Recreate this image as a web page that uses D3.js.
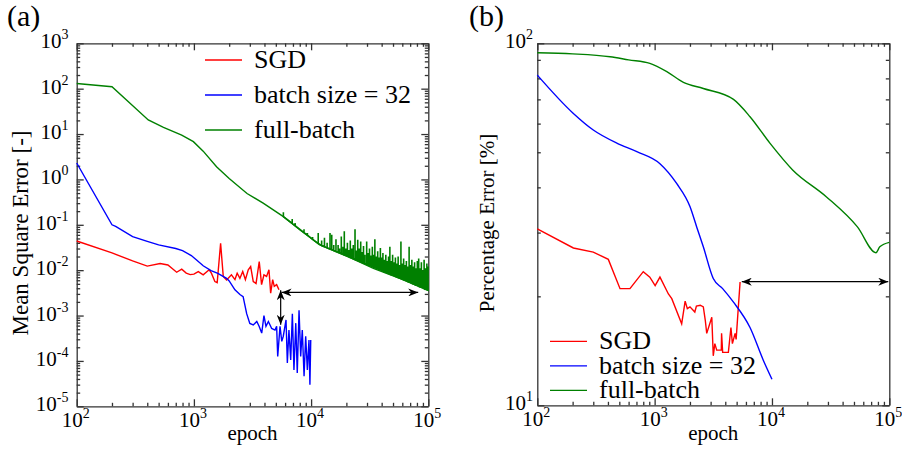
<!DOCTYPE html>
<html>
<head>
<meta charset="utf-8">
<script src="https://cdn.jsdelivr.net/npm/d3@7"></script>
<style>
body{margin:0;background:#fff}
svg{display:block}
text{font-family:"Liberation Serif","DejaVu Serif","Times New Roman",serif}
</style>
</head>
<body>
<script>
// ---- data ----
// (a) Mean Square Error [-]  vs epoch
const sgdMSE = [[100,0.044],[200,0.024],[300,0.016],[400,0.0123],[515,0.014],[600,0.013],[713,0.009],[787,0.0105],
  [860,0.0086],[930,0.008],[1000,0.0082],[1090,0.0093],[1200,0.0079],[1350,0.0102],[1410,0.0086],[1510,0.0056],
  [1580,0.0053],[1690,0.039],[1780,0.0073],[1900,0.0061],[2090,0.0079],[2240,0.0062],[2340,0.0086],[2470,0.0066],
  [2610,0.0093],[2750,0.0062],[2910,0.0102],[3050,0.012],[3210,0.0056],[3390,0.0051],[3610,0.0155],[3780,0.0048],
  [3960,0.0079],[4170,0.0073],[4370,0.0102],[4520,0.0031],[4700,0.0062],[4850,0.0044],[5080,0.0048],[5320,0.0037]]

const batchMSE = [[100,2.3],[200,0.1],[215,0.092],[300,0.055],[400,0.043],[500,0.036],[700,0.03],[800,0.027],
  [950,0.021],[1060,0.0165],[1200,0.0125],[1400,0.0098],[1600,0.0085],[1900,0.0066],[2000,0.0058],[2240,0.0037],
  [2470,0.0029],[2630,0.0026],[2820,0.0011],[3000,0.00067],[3210,0.00062],[3440,0.00074],[3600,0.00058],
  [3790,0.00041],[3960,0.001],[4120,0.00058],[4320,0.00074],[4610,0.00052],[4920,0.00048],[5080,0.00058],
  [5190,0.000126],[5430,0.00058],[5620,0.00027],[5790,0.00035],[6110,0.0008],[6270,0.00009],[6470,0.00048],
  [6700,0.000105],[6920,0.0011],[7140,0.000063],[7400,0.00068],[7620,0.000054],[7890,0.0013],[8150,0.000126],
  [8410,0.00048],[8710,0.000046],[8990,0.00035],[9290,0.000063],[9590,0.00029],[9770,0.00003],[9930,0.00029]]

const fullMSE = [[100,130],[200,110],[408,20.5],[550,14],[787,9.5],[990,6.8],[1200,4.2],[1560,1.9],[2000,1.05],
  [2840,0.49],[3900,0.3],[5800,0.151],[8000,0.078],[11900,0.036],[20000,0.0206],[34000,0.011],[60000,0.0063],[100000,0.0036]]

// full-batch noise spikes: [epoch, base, peak]
const fullSpikes = [[5800,0.151,0.19],[6900,0.107,0.135],[7300,0.096,0.11],[8700,0.067,0.08],[9300,0.059,0.066],
  [10300,0.048,0.054],[11500,0.0386,0.066],[12300,0.0348,0.045],[13000,0.0328,0.052],[13700,0.031,0.04],
  [14500,0.0292,0.066],[15000,0.0281,0.06],[15600,0.027,0.036],[16300,0.0257,0.048],[17000,0.0246,0.036],
  [17500,0.0239,0.03],[18100,0.023,0.055],[18700,0.0222,0.033],[19200,0.0215,0.072],[19800,0.0209,0.03],
  [20400,0.0202,0.04],[21000,0.0195,0.028],[21600,0.019,0.045],[22300,0.0183,0.03],[22900,0.0178,0.036],
  [23700,0.0171,0.08],[24300,0.0167,0.027],[25000,0.0162,0.047],[25700,0.0157,0.03],[26500,0.0152,0.043],
  [27200,0.0148,0.025],[28000,0.0143,0.034],[28800,0.0139,0.022],[29800,0.0134,0.043],[30600,0.013,0.024],
  [31500,0.0126,0.03],[32400,0.0123,0.021],[33300,0.0119,0.033],[34200,0.0116,0.022],[35000,0.0113,0.048],
  [36000,0.011,0.02],[37000,0.0106,0.026],[38000,0.0103,0.019],[39000,0.0101,0.031],[40000,0.0098,0.019],
  [41000,0.0095,0.024],[42200,0.0092,0.017],[43400,0.009,0.022],[44600,0.0087,0.016],[45800,0.0085,0.02],
  [47000,0.0082,0.033],[48300,0.008,0.016],[49600,0.0078,0.022],[51000,0.0076,0.015],[52400,0.0073,0.019],
  [53800,0.0071,0.014],[55300,0.0069,0.02],[56800,0.0067,0.013],[58400,0.0065,0.043],[60000,0.0063,0.014],
  [61600,0.0061,0.018],[63300,0.006,0.013],[65000,0.0058,0.016],[66800,0.0056,0.012],[68600,0.0055,0.033],
  [70500,0.0053,0.013],[72400,0.0051,0.017],[74400,0.005,0.012],[76400,0.0048,0.015],[78500,0.0047,0.011],
  [80600,0.0046,0.016],[82800,0.0044,0.018],[85000,0.0043,0.011],[87300,0.0042,0.015],[89700,0.0041,0.01],
  [92100,0.0039,0.017],[94600,0.0038,0.011],[97200,0.0037,0.014],[99500,0.0036,0.012]]

// (b) Percentage Error [%] vs epoch
const sgdPct = [[100,30.7],[203,27.2],[300,26.5],[403,25.3],[507,21],[616,21],[800,23.4],[910,22.6],[1010,21.4],
  [1110,22.6],[1310,20.3],[1400,19.7],[1700,16.8],[1820,19.4],[1900,18.5],[2000,18.7],[2200,18.1],[2270,18.8],
  [2450,18.9],[2600,18.7],[2700,17.2],[2780,15.8],[3070,17.5],[3160,13.7],[3260,14.8],[3380,14.2],[3700,14.2],
  [3720,15.8],[3800,14],[4250,14],[4470,16.4],[4600,14.8],[4850,15.8],[4950,15.2],[5170,18.7],[5350,21.9]]

const batchPct = [[100,81.7],[203,64],[300,57.6],[476,53],[705,50.2],[1110,46.5],[1540,41],[2000,35.4],[2290,31],
  [2600,27.4],[3160,22.4],[3800,21],[4680,19.3],[6500,16.4],[8450,13.3],[10000,11.8]]

const fullPct = [[100,94.2],[200,93.5],[417,91.8],[600,90],[910,88],[1270,83.5],[1760,78],[2600,75],[4700,70],
  [6500,62.7],[9600,53],[15000,44.7],[29000,37.7],[53500,31.1],[77000,26.4],[83000,27.4],[100000,28.2]]

// double arrows [x1, y1, x2, y2]
const arrowsA = [[5600,0.00323,82000,0.00323],[5500,0.0036,5500,0.00063]]
const arrowsB = [[5530,21.95,98000,21.95]]

const legendNames = ["SGD", "batch size = 32", "full-batch"]
const xExp = ["2","3","4","5"]
const yExpA = ["-5","-4","-3","-2","-1","0","1","2","3"]
const yExpB = ["1","2"]

const colors = ["#ff0000", "#0000ff", "#008000"]
const FONT = "'Liberation Serif', 'DejaVu Serif', serif"

const W = 902, H = 454
const svg = d3.select("body").append("svg").attr("width", W).attr("height", H)
  .attr("font-family", FONT)

svg.append("defs").append("marker")
  .attr("id", "head")
  .attr("viewBox", "0 0 10 8")
  .attr("refX", 10).attr("refY", 4)
  .attr("markerWidth", 11).attr("markerHeight", 8)
  .attr("markerUnits", "userSpaceOnUse")
  .attr("orient", "auto-start-reverse")
  .append("path").attr("d", "M0,0 L10,4 L0,8 L3,4 Z").attr("fill", "#000")

function supLabel(sel, exp) {
  sel.append("tspan").text("10")
  sel.append("tspan").attr("dy", -9).attr("font-size", 14).text(exp)
}

function drawPanel(p) {
  const x = d3.scaleLog().domain([1e2, 1e5]).range([p.left, p.right])
  const y = d3.scaleLog().domain(p.yDomain).range([p.bottom, p.top])
  const g = svg.append("g")

  const isMajor = v => Math.abs(Math.log10(v) - Math.round(Math.log10(v))) < 1e-6
  const xt = x.ticks(), yt = y.ticks()
  const sides = [
    [d3.axisBottom(x), `translate(0,${p.bottom})`, xt],
    [d3.axisTop(x), `translate(0,${p.top})`, xt],
    [d3.axisLeft(y), `translate(${p.left},0)`, yt],
    [d3.axisRight(y), `translate(${p.right},0)`, yt]
  ]
  sides.forEach(([ax, tr, ticks]) => {
    g.append("g").attr("transform", tr)
      .call(ax.tickValues(ticks.filter(v => !isMajor(v))).tickSize(-3.5).tickSizeOuter(0).tickFormat(""))
      .call(s => s.select(".domain").remove())
    g.append("g").attr("transform", tr)
      .call(ax.tickValues(ticks.filter(isMajor)).tickSize(-7).tickSizeOuter(0).tickFormat(""))
  })
  g.selectAll(".domain, .tick line").attr("stroke", "#333").attr("stroke-width", 1.3)

  // tick labels
  xt.filter(isMajor).forEach((v, i) => {
    g.append("text").attr("x", x(v) - 1).attr("y", p.bottom + 20.5)
      .attr("text-anchor", "middle").attr("font-size", 21).attr("font-family", FONT)
      .call(supLabel, p.xExp[i])
  })
  yt.filter(isMajor).forEach((v, i) => {
    g.append("text").attr("x", p.yLabelX).attr("y", y(v) + 5)
      .attr("text-anchor", "end").attr("font-size", 21).attr("font-family", FONT)
      .call(supLabel, p.yExp[i])
  })

  g.append("text").attr("x", (p.left + p.right) / 2).attr("y", 440)
    .attr("text-anchor", "middle").attr("font-size", 21).attr("font-family", FONT).text("epoch")
  g.append("text")
    .attr("transform", `translate(${p.titleX},${p.titleY}) rotate(-90)`)
    .attr("text-anchor", "middle").attr("font-size", p.titleSize).attr("font-family", FONT).text(p.yTitle)
  g.append("text").attr("x", p.tagX).attr("y", 26).attr("font-size", 30).attr("font-family", FONT).text(p.tag)

  const line = d3.line().x(d => x(d[0])).y(d => y(d[1]))
  const smooth = d3.line().x(d => x(d[0])).y(d => y(d[1])).curve(d3.curveMonotoneX)

  p.series.forEach((s, i) => {
    g.append("path").datum(s).attr("d", p.smooth[i] ? smooth : line)
      .attr("fill", "none").attr("stroke", colors[i]).attr("stroke-width", 1.4)
  })
  if (p.spikes) {
    g.append("path")
      .datum(p.spikes.flatMap(d => [[d[0], d[1]], [d[0], d[2]], [d[0], d[1]]]))
      .attr("d", line)
      .attr("fill", "none").attr("stroke", colors[2]).attr("stroke-width", 1.6)
  }

  p.arrows.forEach(a => {
    g.append("line")
      .attr("x1", x(a[0])).attr("y1", y(a[1]))
      .attr("x2", x(a[2])).attr("y2", y(a[3]))
      .attr("stroke", "#000").attr("stroke-width", 1.2)
      .attr("marker-start", "url(#head)").attr("marker-end", "url(#head)")
  })

  // legend
  legendNames.forEach((name, i) => {
    const ly = p.legY + i * p.legStep
    g.append("line").attr("x1", p.legX).attr("x2", p.legX + 37)
      .attr("y1", ly).attr("y2", ly).attr("stroke", colors[i]).attr("stroke-width", 1.3)
    g.append("text").attr("x", p.legX + 49).attr("y", ly + 8)
      .attr("font-size", 26).attr("font-family", FONT).text(name)
  })
}

drawPanel({
  left: 76.7, right: 428.3, top: 43.3, bottom: 406.3,
  yDomain: [1e-5, 1e3], xExp: xExp, yExp: yExpA, yLabelX: 68.5,
  yTitle: "Mean Square Error [-]", titleX: 28, titleY: 233, titleSize: 23,
  tag: "(a)", tagX: 7,
  series: [sgdMSE, batchMSE, fullMSE], smooth: [false, false, false], spikes: fullSpikes, arrows: arrowsA,
  legX: 205, legY: 60, legStep: 35
})

drawPanel({
  left: 537.3, right: 889.3, top: 43.3, bottom: 405.3,
  yDomain: [10, 100], xExp: xExp, yExp: yExpB, yLabelX: 533,
  yTitle: "Percentage Error [%]", titleX: 494, titleY: 223, titleSize: 21,
  tag: "(b)", tagX: 469,
  series: [sgdPct, batchPct, fullPct], smooth: [false, true, true], spikes: null, arrows: arrowsB,
  legX: 550, legY: 341.3, legStep: 24.5
})
</script>
</body>
</html>
